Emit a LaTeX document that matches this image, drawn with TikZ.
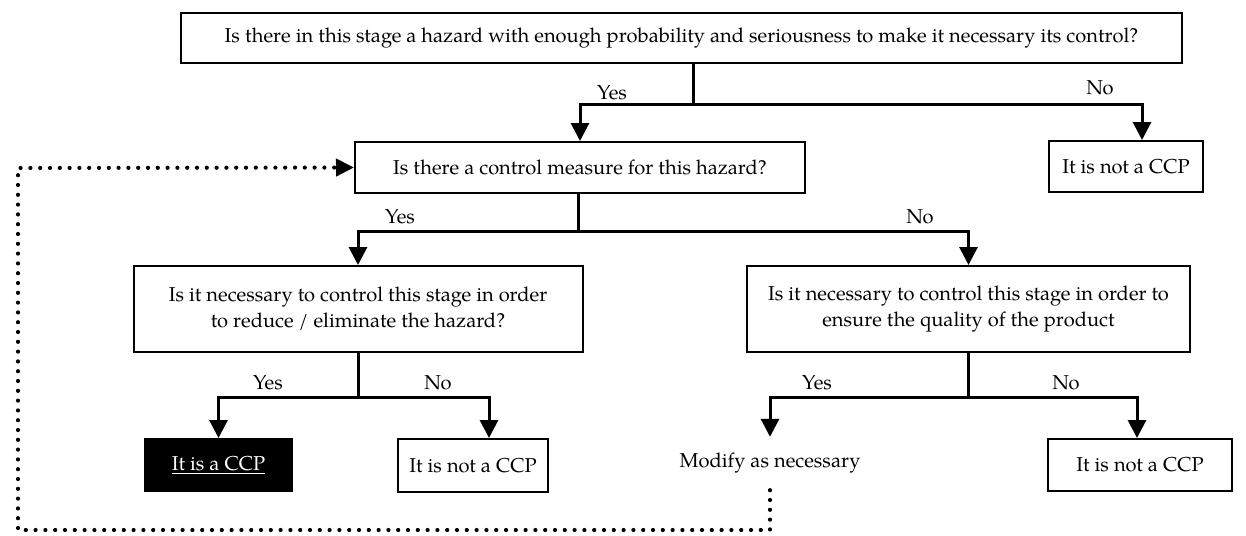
\documentclass[tikz,border=0pt]{standalone}
\usepackage{fontspec}
\setmainfont{TeX Gyre Pagella}
\usetikzlibrary{arrows.meta}
\newcommand\dgfont{\fontsize{20.1}{26}\selectfont}
\begin{document}
\begin{tikzpicture}[x=1pt,y=-1pt,
  box/.style={draw,line width=2pt,inner sep=0pt,align=center,font=\dgfont},
  lbl/.style={font=\dgfont,inner sep=0pt},
  ln/.style={line width=3pt},
  ar/.style={line width=3pt,-{Triangle[length=18pt,width=18pt]}},
  dots/.style={line width=4.2pt,line cap=round,dash pattern=on 0pt off 9.8pt,
    -{Triangle[length=18pt,width=17pt]}}]
\useasboundingbox (0,0) rectangle (1246,535);
% boxes
\node[box,minimum width=1001pt,minimum height=50pt] (top) at (681.5,38)
  {Is there in this stage a hazard with enough probability and seriousness to make it necessary its control?};
\node[box,minimum width=154pt,minimum height=51pt] (ncpA) at (1126,166.5) {It is not a CCP};
\node[box,minimum width=450pt,minimum height=51pt] (cm) at (580,167.5) {Is there a control measure for this hazard?};
\node[box,minimum width=449pt,minimum height=86pt] (qL) at (358,309)
  {Is it necessary to control this stage in order\\to reduce / eliminate the hazard?};
\node[box,minimum width=443pt,minimum height=86pt] (qR) at (968.5,309)
  {Is it necessary to control this stage in order to\\ensure the quality of the product};
\node[box,fill=black,text=white,minimum width=147pt,minimum height=52pt] (ccp) at (218.5,465) {\underline{It is a CCP}};
\node[box,minimum width=150pt,minimum height=53pt] (ncpB) at (473,465.5) {It is not a CCP};
\node[lbl,minimum height=53pt] (mod) at (770,463.5) {Modify as necessary};
\node[box,minimum width=184pt,minimum height=52pt] (ncpC) at (1140,465) {It is not a CCP};
% level 1
\draw[ln] ([xshift=11.5pt]top.south) -- ++(0,40) coordinate (j1);
\draw[ar] (j1) -| (cm.north);
\draw[ar] (j1) -| ([xshift=16pt]ncpA.north);
\node[lbl] (y1) at (612,93) {Yes};
\node[lbl] (n1) at (1100,88) {No};
% level 2
\draw[ln] ([xshift=-2pt]cm.south) -- ++(0,37) coordinate (j2);
\draw[ar] (j2) -| (qL.north);
\draw[ar] (j2) -| (qR.north);
\node[lbl] (y2) at (400,217) {Yes};
\node[lbl] (n2) at (920,217) {No};
% level 3 left
\draw[ln] (qL.south) -- ++(0,44) coordinate (j3);
\draw[ar] (j3) -| (ccp.north);
\draw[ar] (j3) -| ([xshift=16pt]ncpB.north);
\node[lbl] (y3) at (268,383) {Yes};
\node[lbl] (n3) at (438,383) {No};
% level 3 right
\draw[ln] (qR.south) -- ++(0,44) coordinate (j4);
\draw[ar] (j4) -| (mod.north);
\draw[ar] (j4) -| ([xshift=-3pt]ncpC.north);
\node[lbl] (y4) at (817,383) {Yes};
\node[lbl] (n4) at (1066,383) {No};
% dotted feedback loop
\coordinate (d1) at (770,530);
\coordinate (d2) at (18,168);
\draw[dots] (mod.south) -- (d1) -| (d2) -- (cm.west);
\end{tikzpicture}
\end{document}
